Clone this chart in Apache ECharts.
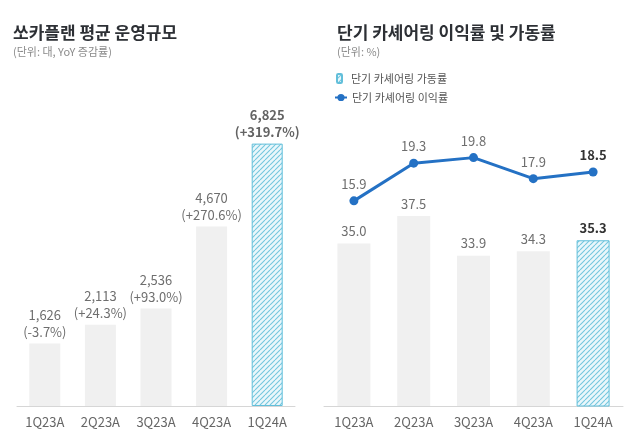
<!DOCTYPE html>
<html><head><meta charset="utf-8">
<script src="https://cdn.jsdelivr.net/npm/echarts@6/dist/echarts.min.js"></script>
<style>html,body{margin:0;padding:0;background:#fff}#c{width:639px;height:446px}</style>
</head><body><div id="c"></div>
<script>
const categories = ['1Q23A','2Q23A','3Q23A','4Q23A','1Q24A'];
const fleetSize = [1626, 2113, 2536, 4670, 6825];
const fleetYoY = ['-3.7', '+24.3', '+93.0', '+270.6', '+319.7'];
const utilization = [35.0, 37.5, 33.9, 34.3, 35.3];
const margin = [15.9, 19.3, 19.8, 17.9, 18.5];
const utilName = '단기 카셰어링 가동률';
const marginName = '단기 카셰어링 이익률';

const FONT = "'Noto Sans CJK KR', 'Noto Sans', sans-serif";
function hatch(){
  const s = 5;
  const c = document.createElement('canvas'); c.width = s; c.height = s;
  const g = c.getContext('2d');
  g.fillStyle = '#eaf7fb'; g.fillRect(0,0,s,s);
  g.strokeStyle = '#74c7de'; g.lineWidth = 1.1;
  g.beginPath();
  for (const k of [-s, 0, s]) { g.moveTo(k, s); g.lineTo(k + s, 0); }
  g.stroke();
  return c;
}
const hatchStyle = { color: { image: hatch(), repeat: 'repeat' }, borderColor: '#62bfda', borderWidth: 1 };
const grayStyle = { color: '#f0f0f0', borderWidth: 0 };
const last = categories.length - 1;

const chart = echarts.init(document.getElementById('c'), null, { renderer: 'canvas' });
chart.setOption({
  animation: false,
  textStyle: { fontFamily: FONT },
  title: [
    { text: '쏘카플랜 평균 운영규모', subtext: '(단위: 대, YoY 증감률)', left: 13, top: 24, itemGap: 3, padding: 0,
      textStyle: { fontSize: 17, fontWeight: 'bold', color: '#2d3035', lineHeight: 18, fontFamily: FONT },
      subtextStyle: { fontSize: 11, color: '#8a8a8a', lineHeight: 13, fontFamily: FONT } },
    { text: '단기 카셰어링 이익률 및 가동률', subtext: '(단위: %)', left: 337, top: 24, itemGap: 3, padding: 0,
      textStyle: { fontSize: 17, fontWeight: 'bold', color: '#2d3035', lineHeight: 18, fontFamily: FONT },
      subtextStyle: { fontSize: 11, color: '#8a8a8a', lineHeight: 13, fontFamily: FONT } }
  ],
  legend: [
    { data: [utilName], left: 336, top: 73, padding: 0, itemWidth: 5, itemHeight: 9,
      textStyle: { fontSize: 11, color: '#555', padding: [0,0,0,4], fontFamily: FONT } },
    { data: [marginName], left: 334, top: 92, padding: 0, itemWidth: 12, itemHeight: 9,
      textStyle: { fontSize: 11, color: '#555', fontFamily: FONT } }
  ],
  grid: [
    { left: 17, right: 344, top: 60, bottom: 40 },
    { left: 324, right: 16, top: 136, bottom: 40 }
  ],
  xAxis: [0, 1].map(i => ({
    type: 'category', gridIndex: i, data: categories,
    axisLine: { onZero: false, lineStyle: { color: '#d6d6d6', width: 1 } },
    axisTick: { show: false },
    axisLabel: { color: '#666', fontSize: 13, margin: 10, fontFamily: FONT }
  })),
  yAxis: [
    { type: 'value', gridIndex: 0, min: 0, max: 9000, show: false, splitLine: { show: false } },
    { type: 'value', gridIndex: 1, min: 20.2, max: 44.8, show: false, splitLine: { show: false } },
    { type: 'value', gridIndex: 1, min: -2.6, max: 21.75, show: false, splitLine: { show: false } }
  ],
  series: [
    {
      type: 'bar', xAxisIndex: 0, yAxisIndex: 0, barWidth: 31,
      itemStyle: hatchStyle,
      data: fleetSize.map((v, i) => i === last
        ? { value: v, label: { fontWeight: 'bold', color: '#636363' } }
        : { value: v, itemStyle: grayStyle }),
      label: {
        show: true, position: 'top', distance: 3, fontSize: 13, lineHeight: 17, color: '#6e6e6e', fontFamily: FONT,
        formatter: p => fleetSize[p.dataIndex].toLocaleString('en-US') + '\n(' + fleetYoY[p.dataIndex] + '%)'
      }
    },
    {
      name: utilName, type: 'bar', xAxisIndex: 1, yAxisIndex: 1, barWidth: 33,
      itemStyle: hatchStyle,
      data: utilization.map((v, i) => i === last
        ? { value: v, label: { fontWeight: 'bold', color: '#333' } }
        : { value: v, itemStyle: grayStyle }),
      label: {
        show: true, position: 'top', distance: 6, fontSize: 13, color: '#6e6e6e', fontFamily: FONT,
        formatter: p => p.value.toFixed(1)
      }
    },
    {
      name: marginName, type: 'line', xAxisIndex: 1, yAxisIndex: 2, z: 5,
      symbol: 'circle', symbolSize: 9,
      lineStyle: { color: '#2471c4', width: 3 },
      itemStyle: { color: '#2471c4' },
      data: margin.map((v, i) => i === last
        ? { value: v, label: { fontWeight: 'bold', color: '#333' } }
        : { value: v }),
      label: {
        show: true, position: 'top', distance: 6, fontSize: 13, color: '#6e6e6e', fontFamily: FONT,
        formatter: p => p.value.toFixed(1)
      }
    }
  ]
});
</script>
</body></html>
